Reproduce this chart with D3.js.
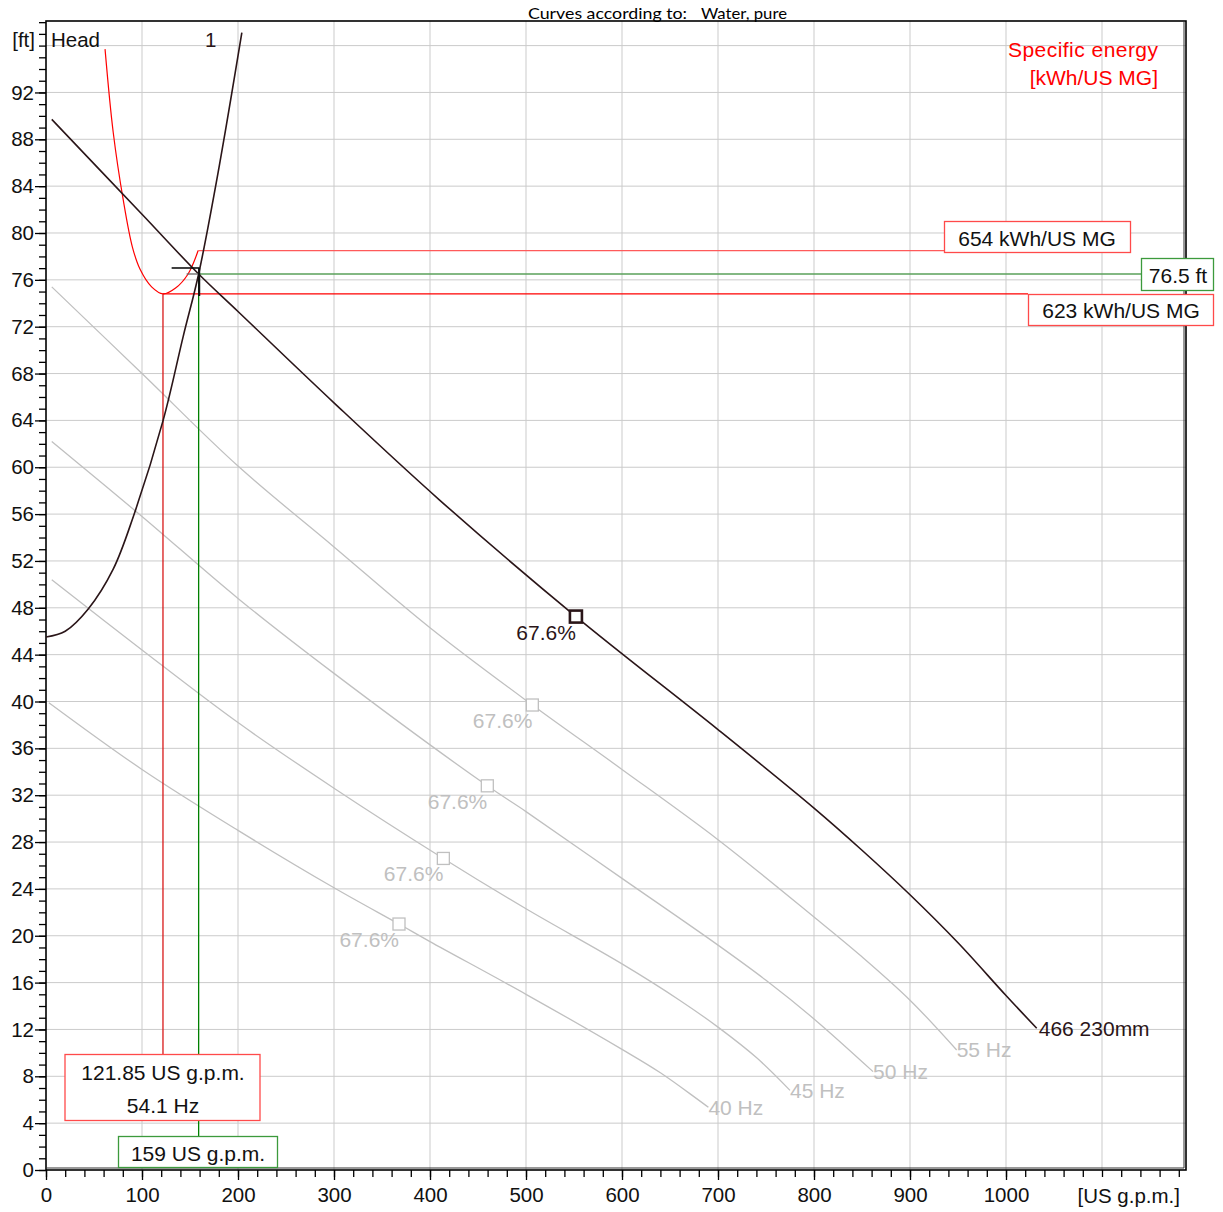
<!DOCTYPE html>
<html>
<head>
<meta charset="utf-8">
<script src="https://cdn.jsdelivr.net/npm/d3@7"></script>
<style>
  body { margin: 0; background: #fff; }
  svg { font-family: "Liberation Sans", Arial, sans-serif; }
</style>
</head>
<body>
<svg width="1223" height="1212"></svg>
<script>
// pump curve 466 230mm (flow US g.p.m. / head ft)
const mainQ = [6, 100, 159, 200, 300, 410, 552, 700, 800, 850, 900, 950, 1000, 1032];
const mainH = [89.7, 81.6, 76.5, 73.3, 65.5, 57.2, 47.25, 37.6, 30.9, 27.3, 23.5, 19.4, 14.9, 12.1];

// reduced speed curves
const freqLabels = ["55 Hz", "50 Hz", "45 Hz", "40 Hz"];
const q55 = [6, 100, 200, 300, 400, 506.6, 600, 700, 800, 850, 900, 948.6];
const h55 = [75.4, 68.0, 60.1, 53.2, 46.3, 39.7, 34.2, 28.2, 21.6, 18.2, 14.5, 10.25];
const q50 = [6, 100, 200, 300, 459.7, 500, 600, 700, 750, 800, 861.5];
const h50 = [62.2, 55.8, 48.8, 42.4, 32.8, 30.6, 24.9, 19.2, 16.2, 12.9, 8.4];
const q45 = [6, 100, 200, 300, 413.9, 500, 600, 660, 700, 740, 775];
const h45 = [50.4, 44.4, 38.2, 32.6, 26.6, 22.3, 17.6, 14.5, 12.2, 9.6, 6.8];
const q40 = [3, 100, 200, 300, 367.7, 400, 500, 600, 640, 690];
const h40 = [39.9, 34.2, 29.0, 24.1, 21.0, 19.5, 15.0, 10.3, 8.3, 5.35];

// best efficiency points (main curve first, then 55..40 Hz)
const bepQ = [552, 506.6, 459.7, 413.9, 367.7];
const bepH = [47.25, 39.7, 32.8, 26.6, 21.0];
const bepLabel = "67.6%";

// system curve "1"
const sysQ = [0, 20, 44, 70, 91, 122, 143, 159, 180, 204];
const sysH = [45.5, 46.0, 47.9, 51.3, 55.8, 64.0, 71.2, 76.5, 85.5, 97.1];

// specific energy curve (plotted in head coordinates)
const energyQ = [61.5, 70, 80.5, 90, 98, 110, 122, 135, 148, 158.5];
const energyH = [95.7, 88.6, 82.8, 78.8, 76.9, 75.4, 74.8, 75.3, 76.5, 78.5];

// operating point and readouts
const opQ = 159, opH = 76.5;
const energyMinQ = 121.85;
const energyLevels = [78.5, 74.8];
const energyTexts = ["654 kWh/US MG", "623 kWh/US MG"];

const headTicks = d3.range(0, 93, 4);
const flowTicks = d3.range(0, 1001, 100);

const svg = d3.select("svg");
const x = d3.scaleLinear().domain([0, 1187.5]).range([46, 1186]);
const y = d3.scaleLinear().domain([0, 98.1]).range([1170, 21]);

const dark = "#2a1518", gray = "#c0c0c0";
const line = d3.line().x(d => x(d[0])).y(d => y(d[1])).curve(d3.curveCatmullRom.alpha(0.5));
const zip = (a, b) => a.map((v, i) => [v, b[i]]);

// grid
svg.append("g").selectAll("line")
    .data(d3.range(100, 1200, 100))
    .join("line")
    .attr("x1", d => x(d)).attr("x2", d => x(d))
    .attr("y1", y(0)).attr("y2", y(98.1))
    .attr("stroke", "#cbcbcb");
svg.append("g").selectAll("line")
    .data(d3.range(4, 100, 4))
    .join("line")
    .attr("y1", d => y(d)).attr("y2", d => y(d))
    .attr("x1", x(0)).attr("x2", x(1187.5))
    .attr("stroke", "#cbcbcb");

// title
svg.append("text").attr("x", 528).attr("y", 19)
    .style("font-family", "Lato, 'Open Sans', sans-serif").style("font-size", "16px")
    .attr("textLength", 159).attr("lengthAdjust", "spacingAndGlyphs")
    .text("Curves according to:");
svg.append("text").attr("x", 701).attr("y", 19)
    .style("font-family", "Lato, 'Open Sans', sans-serif").style("font-size", "16px")
    .attr("textLength", 86).attr("lengthAdjust", "spacingAndGlyphs")
    .text("Water, pure");

// frame
svg.append("rect").attr("x", x(0)).attr("y", 21).attr("width", 1140).attr("height", 1149)
    .attr("fill", "none").attr("stroke", "#000").attr("stroke-width", 1.6);
svg.append("line").attr("x1", x(0)).attr("x2", 1184).attr("y1", 1168).attr("y2", 1168)
    .attr("stroke", "#333").attr("stroke-width", 1);
svg.append("line").attr("x1", 1184).attr("x2", 1184).attr("y1", 21).attr("y2", 1168)
    .attr("stroke", "#333").attr("stroke-width", 1);

// speed curves
const speedCurves = [zip(q55, h55), zip(q50, h50), zip(q45, h45), zip(q40, h40)];
svg.append("g").selectAll("path")
    .data(speedCurves)
    .join("path")
    .attr("d", line)
    .attr("fill", "none")
    .attr("stroke", gray)
    .attr("stroke-width", 1.3);
svg.append("g").selectAll("text")
    .data(speedCurves)
    .join("text")
    .attr("x", d => x(d[d.length - 1][0]))
    .attr("y", d => y(d[d.length - 1][1]))
    .attr("dy", "0.35em")
    .style("font-size", "21px")
    .attr("fill", gray)
    .text((d, i) => freqLabels[i]);

// energy curve and readout lines
svg.append("path").attr("d", line(zip(energyQ, energyH)))
    .attr("fill", "none").attr("stroke", "#ff0000").attr("stroke-width", 1.2);
svg.append("line")
    .attr("x1", x(energyQ[energyQ.length - 1])).attr("x2", 945)
    .attr("y1", y(energyLevels[0])).attr("y2", y(energyLevels[0]))
    .attr("stroke", "#ff5a5a").attr("stroke-width", 1.3);
svg.append("line")
    .attr("x1", x(energyMinQ)).attr("x2", 1028)
    .attr("y1", y(energyLevels[1])).attr("y2", y(energyLevels[1]))
    .attr("stroke", "#ff0000").attr("stroke-width", 1.3);
svg.append("line")
    .attr("x1", x(energyMinQ)).attr("x2", x(energyMinQ))
    .attr("y1", y(energyLevels[1])).attr("y2", 1054)
    .attr("stroke", "#d81818").attr("stroke-width", 1.3);
svg.append("line")
    .attr("x1", x(opQ)).attr("x2", 1141)
    .attr("y1", y(opH)).attr("y2", y(opH))
    .attr("stroke", "#5aa05a").attr("stroke-width", 1.3);
svg.append("line")
    .attr("x1", x(opQ)).attr("x2", x(opQ))
    .attr("y1", y(opH)).attr("y2", 1136)
    .attr("stroke", "#008000").attr("stroke-width", 1.3);

// system curve and pump curve
svg.append("path").attr("d", line(zip(sysQ, sysH)))
    .attr("fill", "none").attr("stroke", dark).attr("stroke-width", 1.6);
svg.append("path").attr("d", line(zip(mainQ, mainH)))
    .attr("fill", "none").attr("stroke", dark).attr("stroke-width", 1.6);
svg.append("text")
    .attr("x", x(mainQ[mainQ.length - 1]) + 2).attr("y", y(mainH[mainH.length - 1]))
    .attr("dy", "0.35em").style("font-size", "21px").attr("fill", dark)
    .text("466 230mm");

// operating point cross
svg.append("line").attr("x1", x(opQ) - 27).attr("x2", x(opQ) + 1)
    .attr("y1", y(opH) - 6).attr("y2", y(opH) - 6)
    .attr("stroke", "#111").attr("stroke-width", 1.6);
svg.append("line").attr("x1", x(opQ) - 12).attr("x2", x(opQ) + 1)
    .attr("y1", y(opH)).attr("y2", y(opH))
    .attr("stroke", "#666").attr("stroke-width", 1.3);
svg.append("line").attr("x1", x(opQ) + 0.5).attr("x2", x(opQ) + 0.5)
    .attr("y1", y(opH) - 6).attr("y2", y(opH) + 22)
    .attr("stroke", "#111").attr("stroke-width", 2.2);

// efficiency markers
const beps = zip(bepQ, bepH);
svg.append("g").selectAll("rect")
    .data(beps)
    .join("rect")
    .attr("x", d => x(d[0]) - 6).attr("y", d => y(d[1]) - 6)
    .attr("width", 12).attr("height", 12)
    .attr("fill", "#fff")
    .attr("stroke", (d, i) => i === 0 ? dark : gray)
    .attr("stroke-width", (d, i) => i === 0 ? 2.6 : 1.3);
svg.append("g").selectAll("text")
    .data(beps)
    .join("text")
    .attr("x", d => x(d[0]))
    .attr("y", d => y(d[1]) + 23)
    .attr("text-anchor", "end")
    .style("font-size", "21px")
    .attr("fill", (d, i) => i === 0 ? dark : gray)
    .text(bepLabel);

// readout boxes
function box(x0, y0, w, h, color, lines) {
    svg.append("rect").attr("x", x0).attr("y", y0).attr("width", w).attr("height", h)
        .attr("fill", "#fff").attr("stroke", color).attr("stroke-width", 1.3);
    lines.forEach(l => {
        svg.append("text").attr("x", l[0]).attr("y", l[1])
            .attr("text-anchor", "middle").style("font-size", "21px").attr("fill", "#111")
            .text(l[2]);
    });
}
box(944.5, 221.5, 186, 31, "#ff4a4a", [[1037, 245.5, energyTexts[0]]]);
box(1141.5, 258.5, 72, 32, "#3c9a3c", [[1178, 283, opH + " ft"]]);
box(1028.5, 294.5, 185, 31, "#ff4a4a", [[1121, 318, energyTexts[1]]]);
box(65, 1054.5, 195, 66, "#ff4a4a", [[163, 1079.5, energyMinQ + " US g.p.m."], [163, 1113, "54.1 Hz"]]);
box(118.5, 1136.5, 159, 31, "#3c9a3c", [[198, 1161, opQ + " US g.p.m."]]);

// axes
const yMinor = svg.append("g").attr("transform", `translate(${x(0)},0)`)
    .call(d3.axisLeft(y).tickValues(d3.range(0, 99, 1)).tickSize(7).tickFormat(""));
yMinor.select(".domain").remove();
const yMajor = svg.append("g").attr("transform", `translate(${x(0)},0)`)
    .call(d3.axisLeft(y).tickValues(headTicks).tickSize(11).tickPadding(1).tickFormat(d3.format("d")));
yMajor.select(".domain").remove();

const xMinor = svg.append("g").attr("transform", `translate(0,${y(0)})`)
    .call(d3.axisBottom(x).tickValues(d3.range(0, 1181, 20)).tickSize(7).tickFormat(""));
xMinor.select(".domain").remove();
const xMajor = svg.append("g").attr("transform", `translate(0,${y(0)})`)
    .call(d3.axisBottom(x).tickValues(flowTicks).tickSize(10).tickPadding(7).tickFormat(d3.format("d")));
xMajor.select(".domain").remove();

svg.selectAll(".tick line").attr("stroke", "#000").attr("stroke-width", 1.3);
svg.selectAll(".tick text").style("font-size", "20.5px").style("font-family", "'Liberation Sans', Arial, sans-serif").attr("fill", "#111");

// axis captions and labels
svg.append("text").attr("x", 35).attr("y", 47).attr("text-anchor", "end")
    .style("font-size", "20.5px").attr("fill", "#111").text("[ft]");
svg.append("text").attr("x", 1180).attr("y", 1203).attr("text-anchor", "end")
    .style("font-size", "20.5px").attr("fill", "#111").text("[US g.p.m.]");
svg.append("text").attr("x", 51).attr("y", 47)
    .style("font-size", "20.5px").attr("fill", "#111").text("Head");
svg.append("text").attr("x", 205).attr("y", 47)
    .style("font-size", "20.5px").attr("fill", dark).text("1");
svg.append("text").attr("x", 1158).attr("y", 57).attr("text-anchor", "end")
    .style("font-size", "21px").attr("fill", "#ff0000")
    .attr("textLength", 150).attr("lengthAdjust", "spacing")
    .text("Specific energy");
svg.append("text").attr("x", 1158).attr("y", 85).attr("text-anchor", "end")
    .style("font-size", "21px").attr("fill", "#ff0000").text("[kWh/US MG]");
</script>
</body>
</html>
